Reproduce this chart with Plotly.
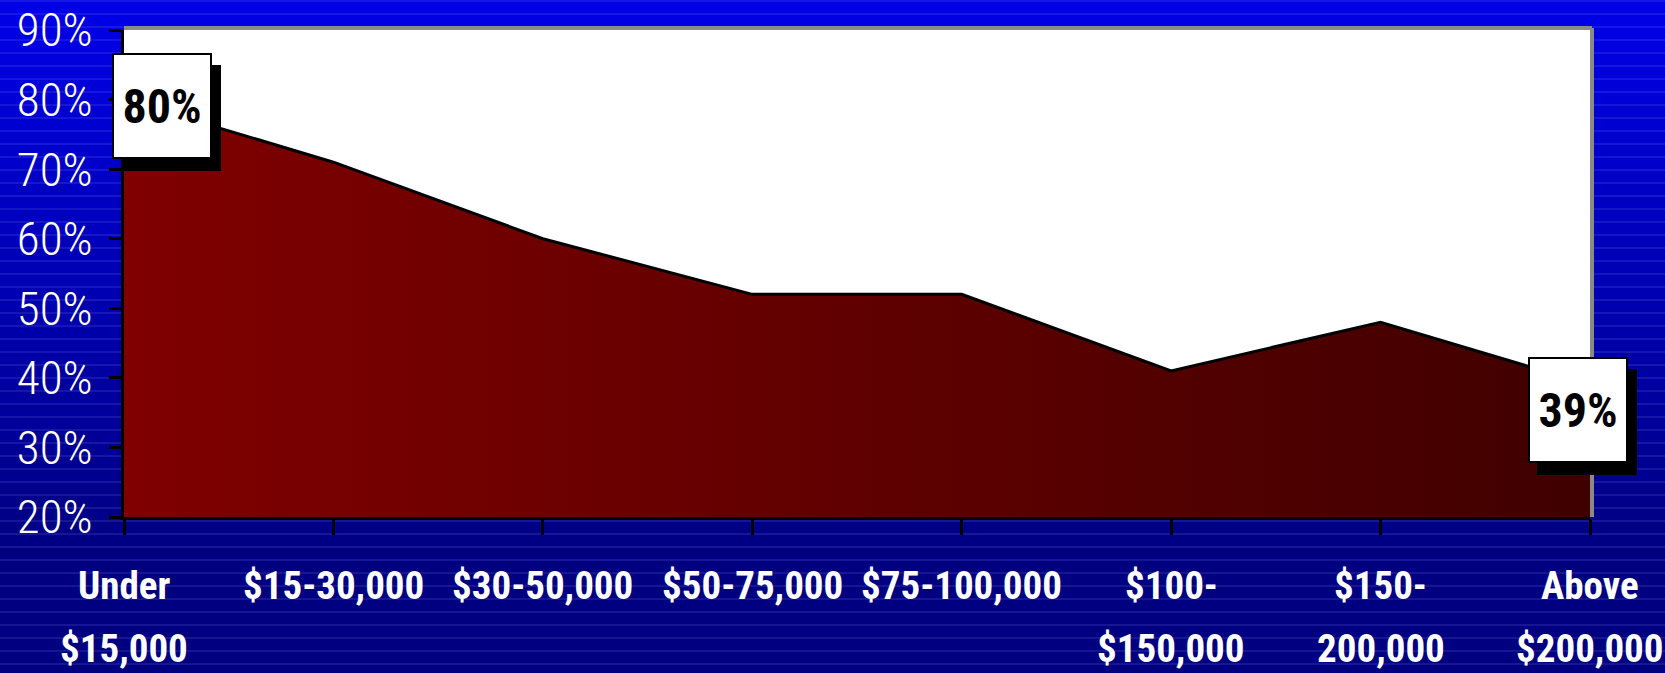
import math
import plotly.graph_objects as go

# ---------------- data ----------------
categories_line1 = ["Under", "$15-30,000", "$30-50,000", "$50-75,000",
                    "$75-100,000", "$100-", "$150-", "Above"]
categories_line2 = ["$15,000", "", "", "", "", "$150,000", "200,000", "$200,000"]
values = [80, 71, 60, 52, 52, 41, 48, 39]
y_ticks = [20, 30, 40, 50, 60, 70, 80, 90]
callout_points = [0, 7]

# ---------------- layout constants ----------------
W, H = 1665, 673
PL, PR, PT, PB = 124, 1590, 30, 517   # plot box in pixels

xs = list(range(len(values)))


def xp(px):
    return (px - PL) / (PR - PL)


def yp(py):
    return (PB - py) / (PB - PT)


COND = "Roboto Condensed, DejaVu Sans Condensed, sans-serif"

fig = go.Figure()
fig.add_trace(go.Scatter(
    x=xs, y=values, mode="lines",
    line=dict(color="black", width=3),
    fill="tozeroy",
    fillgradient=dict(type="horizontal",
                      colorscale=[[0, "rgb(128,0,0)"], [1, "rgb(64,0,0)"]]),
    hoverinfo="skip", showlegend=False,
))

shapes = []
# striped blue gradient background
step = 13
n = math.ceil(H / step)
for i in range(n):
    p0 = i * step
    p1 = min(H, (i + 1) * step)
    mid = (p0 + p1) / 2
    t = min(1.0, mid / 560)
    b = int(round(232 - 104 * t))
    shapes.append(dict(type="rect", xref="paper", yref="paper", layer="below",
                       x0=xp(-5), x1=xp(W + 5), y0=yp(p1 + 0.5), y1=yp(p0),
                       fillcolor=f"rgb(0,0,{b})", line=dict(width=0)))
    shapes.append(dict(type="line", xref="paper", yref="paper", layer="below",
                       x0=xp(-5), x1=xp(W + 5), y0=yp(p0 + 1), y1=yp(p0 + 1),
                       line=dict(color="rgba(150,150,255,0.3)", width=1)))
# white plot area
shapes.append(dict(type="rect", xref="paper", yref="paper", layer="below",
                   x0=0, x1=1, y0=0, y1=1, fillcolor="white", line=dict(width=0)))
# grey 3D border top/right
shapes.append(dict(type="line", xref="paper", yref="paper", layer="below",
                   x0=0, x1=xp(PR + 2), y0=yp(PT - 2), y1=yp(PT - 2),
                   line=dict(color="#8a8a8a", width=4)))
shapes.append(dict(type="line", xref="paper", yref="paper", layer="below",
                   x0=xp(PR + 2), x1=xp(PR + 2), y0=0, y1=yp(PT - 2),
                   line=dict(color="#8a8a8a", width=4)))

annotations = []
# category labels (two lines each)
for i in xs:
    annotations.append(dict(x=i, y=yp(586), xref="x", yref="paper",
                            text=categories_line1[i], showarrow=False,
                            xanchor="center", yanchor="middle",
                            font=dict(family=COND, size=39, color="white", weight="bold")))
    if categories_line2[i]:
        annotations.append(dict(x=i, y=yp(649), xref="x", yref="paper",
                                text=categories_line2[i], showarrow=False,
                                xanchor="center", yanchor="middle",
                                font=dict(family=COND, size=39, color="white", weight="bold")))

# callout boxes with drop shadow
offsets = {0: (38, -6), 7: (-12, -25)}
for i in callout_points:
    dx, dy = offsets[i]
    annotations.append(dict(x=i, y=values[i], xref="x", yref="y", text=" ",
                            showarrow=False, xshift=dx + 9, yshift=dy - 12,
                            width=96, height=102, bgcolor="black",
                            bordercolor="black", borderwidth=2, borderpad=0))
    annotations.append(dict(x=i, y=values[i], xref="x", yref="y",
                            text=f"{values[i]}%",
                            showarrow=False, xshift=dx, yshift=dy,
                            width=96, height=102, bgcolor="white",
                            bordercolor="black", borderwidth=2, borderpad=0,
                            font=dict(family=COND, size=48, color="black", weight="bold")))

fig.update_layout(
    width=W, height=H,
    margin=dict(l=PL, r=W - PR, t=PT, b=H - PB, pad=0, autoexpand=False),
    paper_bgcolor="rgb(0,0,160)",
    plot_bgcolor="rgba(0,0,0,0)",
    shapes=shapes,
    annotations=annotations,
    showlegend=False,
    xaxis=dict(range=[0, len(values) - 1], showgrid=False, zeroline=False,
               showline=True, linecolor="black", linewidth=3,
               ticks="outside", ticklen=15, tickwidth=3, tickcolor="black",
               tickvals=xs, showticklabels=False, fixedrange=True,
               automargin=False),
    yaxis=dict(range=[20, 90], showgrid=False, zeroline=False,
               showline=True, linecolor="black", linewidth=3,
               ticks="outside", ticklen=12, tickwidth=3, tickcolor="black",
               tickvals=y_ticks, ticktext=[f"{v}%" for v in y_ticks],
               tickfont=dict(family="Roboto Condensed, Roboto, sans-serif",
                             size=47, color="white", weight=300),
               ticklabelstandoff=7, fixedrange=True, automargin=False),
)

fig.write_html("out.html", config={"displayModeBar": False},
               post_script="document.body.style.margin='0';document.body.style.overflow='hidden';")
